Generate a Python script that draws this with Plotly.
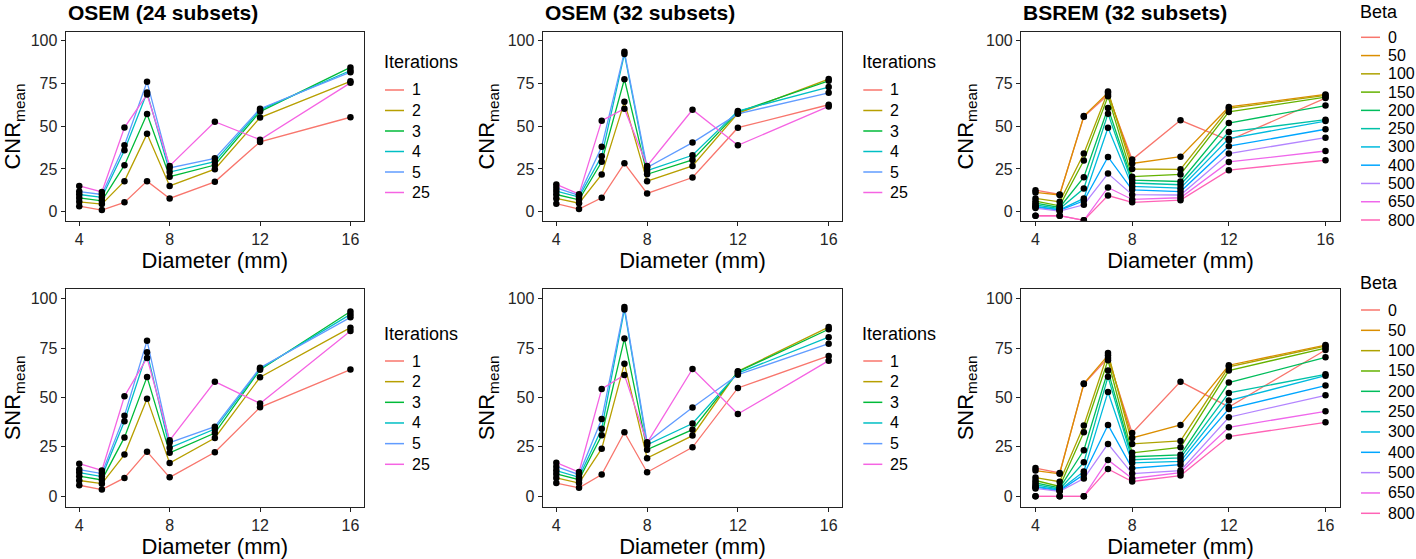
import plotly.graph_objects as go

W, H = 1416, 559

diameters = [4, 5, 6, 7, 8, 10, 12, 16]
iterations = ["1", "2", "3", "4", "5", "25"]
betas = ["0", "50", "100", "150", "200", "250", "300", "400", "500", "650", "800"]

iter_colors = ["#F8766D", "#B79F00", "#00BA38", "#00BFC4", "#619CFF", "#F564E3"]
beta_colors = ["#F8766D", "#DB8E00", "#AEA200", "#64B200", "#00BD5C", "#00C1A7",
               "#00BADE", "#00A6FF", "#B385FF", "#EF67EB", "#FF63B6"]

# rows follow `iterations`, columns follow `diameters`
osem24_cnr = [
    [3.3, 1.0, 5.5, 17.9, 7.8, 17.5, 40.8, 55.2],
    [5.8, 4.5, 17.9, 45.5, 15.1, 24.9, 55.0, 76.2],
    [8.1, 6.4, 27.2, 57.1, 20.5, 27.3, 58.5, 84.3],
    [10.1, 8.4, 35.9, 69.7, 23.2, 29.3, 59.5, 82.5],
    [11.8, 10.1, 38.8, 75.9, 25.6, 31.2, 60.2, 81.5],
    [15.1, 11.6, 49.2, 68.5, 26.8, 52.6, 42.1, 75.3],
]
osem32_cnr = [
    [4.7, 1.6, 8.2, 28.3, 10.7, 20.0, 49.1, 62.5],
    [7.8, 5.0, 21.8, 64.2, 17.9, 26.8, 57.5, 77.5],
    [10.1, 7.0, 29.2, 77.4, 21.9, 30.3, 58.3, 76.5],
    [12.1, 8.6, 32.5, 92.2, 24.0, 33.0, 58.8, 72.8],
    [14.0, 9.6, 38.0, 93.4, 25.8, 40.4, 57.2, 69.5],
    [16.0, 10.3, 53.2, 60.2, 26.8, 59.6, 38.8, 61.5],
]
osem24_snr = [
    [5.6, 3.4, 9.3, 22.6, 9.6, 22.3, 45.0, 64.1],
    [8.0, 6.4, 21.1, 49.4, 16.8, 29.5, 60.2, 85.3],
    [10.2, 8.3, 29.8, 60.4, 22.0, 32.0, 64.0, 93.5],
    [12.0, 10.0, 38.0, 72.8, 24.5, 34.0, 64.5, 92.0],
    [13.5, 11.5, 40.8, 78.7, 27.2, 35.2, 65.0, 90.5],
    [16.5, 13.1, 50.6, 70.0, 28.3, 58.0, 47.0, 83.6],
]
osem32_snr = [
    [6.7, 4.3, 11.0, 32.4, 12.2, 24.8, 54.8, 71.0],
    [9.3, 6.7, 24.1, 67.1, 19.3, 30.7, 63.2, 85.6],
    [11.3, 8.4, 30.9, 79.8, 23.6, 33.7, 63.0, 84.5],
    [13.0, 9.6, 34.2, 94.5, 26.0, 36.8, 62.3, 80.5],
    [15.0, 11.0, 39.1, 95.8, 27.3, 44.9, 61.5, 77.2],
    [17.0, 12.3, 54.3, 61.4, 27.0, 64.4, 41.6, 68.6],
]
# rows follow `betas`
bsrem_cnr = [
    [12.6, 10.1, 55.5, 68.3, 30.5, 53.4, 41.7, 66.4],
    [11.3, 9.8, 55.9, 69.5, 28.2, 32.2, 61.2, 68.5],
    [7.8, 5.8, 34.0, 70.3, 25.0, 24.8, 60.4, 68.0],
    [6.2, 3.5, 29.9, 67.4, 20.5, 21.8, 58.3, 66.9],
    [5.0, 2.5, 20.2, 60.6, 18.5, 17.7, 51.8, 62.0],
    [4.0, 1.8, 13.6, 57.3, 16.8, 15.8, 46.6, 53.8],
    [3.2, 1.2, 7.8, 49.1, 14.8, 13.8, 42.7, 53.0],
    [2.8, 0.8, 6.4, 32.0, 12.8, 11.8, 38.3, 48.2],
    [2.2, 0.4, 4.1, 22.3, 10.0, 9.8, 34.0, 43.3],
    [-2.3, -2.3, -5.0, 14.2, 7.2, 8.2, 29.1, 35.5],
    [-2.3, -2.3, -5.0, 9.5, 5.5, 6.8, 24.3, 30.1],
]
bsrem_snr = [
    [14.3, 11.8, 56.8, 70.0, 32.0, 58.0, 45.2, 74.0],
    [13.0, 11.4, 57.0, 71.3, 29.5, 36.1, 66.3, 76.5],
    [9.5, 7.4, 35.8, 72.5, 26.5, 28.0, 65.5, 76.0],
    [8.0, 5.0, 32.4, 68.8, 22.0, 24.8, 63.6, 75.0],
    [6.8, 4.2, 23.3, 63.6, 20.0, 21.0, 57.5, 70.3],
    [5.9, 3.6, 17.2, 60.5, 18.5, 19.4, 52.3, 61.7],
    [5.0, 3.2, 12.6, 52.8, 16.9, 17.7, 48.4, 61.0],
    [4.6, 2.8, 11.0, 36.1, 14.2, 16.0, 44.2, 56.0],
    [4.0, 2.5, 9.0, 26.5, 11.5, 13.0, 40.0, 51.1],
    [0.0, 0.0, 0.0, 18.4, 9.0, 12.0, 34.9, 43.0],
    [0.0, 0.0, 0.0, 13.8, 7.5, 10.5, 30.2, 37.4],
]

# panel frames in pixels: (left, right) per column, (top, bottom) per row
col_px = [(65.7, 364.0), (542.7, 842.3), (1021.0, 1340.0)]
row_px = [(32.3, 220.7), (289.1, 506.6)]
# legend layout per (row, kind): title y, first item y, item step
legend_px = {
    (0, "Iterations"): (61.7, 90.0, 20.5),
    (1, "Iterations"): (334.3, 361.0, 20.66),
    (0, "Beta"): (11.7, 37.3, 18.27),
    (1, "Beta"): (283.3, 310.0, 20.33),
}

panels = [
    (0, 0, osem24_cnr, "Iterations", "CNR", "OSEM (24 subsets)"),
    (0, 1, osem32_cnr, "Iterations", "CNR", "OSEM (32 subsets)"),
    (0, 2, bsrem_cnr, "Beta", "CNR", "BSREM (32 subsets)"),
    (1, 0, osem24_snr, "Iterations", "SNR", None),
    (1, 1, osem32_snr, "Iterations", "SNR", None),
    (1, 2, bsrem_snr, "Beta", "SNR", None),
]

px_x = lambda v: v / W
px_y = lambda v: 1 - v / H

FONT = "Liberation Sans, Arial, sans-serif"
fig = go.Figure()
shapes, annotations = [], []

for i, (r, c, data, kind, metric, title) in enumerate(panels, start=1):
    names = iterations if kind == "Iterations" else betas
    colors = iter_colors if kind == "Iterations" else beta_colors
    xa, ya = f"x{i}", f"y{i}"

    for name, col, vals in zip(names, colors, data):
        fig.add_trace(go.Scatter(
            x=diameters, y=vals, mode="lines", name=name,
            line=dict(color=col, width=1.3), xaxis=xa, yaxis=ya,
            showlegend=False))
    for name, vals in zip(names, data):
        fig.add_trace(go.Scatter(
            x=diameters, y=vals, mode="markers", name=name,
            marker=dict(color="black", size=6.5), xaxis=xa, yaxis=ya,
            showlegend=False, cliponaxis=True))

    l, rgt = col_px[c]
    t, b = row_px[r]
    axis_common = dict(
        showline=True, mirror=True, linecolor="#222", linewidth=1.2,
        ticks="outside", ticklen=4, tickcolor="#222", tickwidth=1,
        tickfont=dict(size=16, color="#262626", family=FONT),
        showgrid=False, zeroline=False,
    )
    fig.update_layout(**{
        f"xaxis{i}": dict(
            domain=[px_x(l), px_x(rgt)], anchor=ya, range=[3.4, 16.6],
            tickvals=[4, 8, 12, 16],
            title=dict(text="Diameter (mm)", font=dict(size=22, color="black", family=FONT), standoff=1),
            **axis_common),
        f"yaxis{i}": dict(
            domain=[px_y(b), px_y(t)], anchor=xa, range=[-5.2, 104.8],
            tickvals=[0, 25, 50, 75, 100],
            title=dict(text=f"{metric}<sub>mean</sub>", font=dict(size=22, color="black", family=FONT), standoff=6),
            **axis_common),
    })

    if title:
        annotations.append(dict(
            text=f"<b>{title}</b>", x=px_x(l), y=px_y(12.7), xref="paper", yref="paper",
            xanchor="left", yanchor="middle", showarrow=False,
            font=dict(size=21, color="black", family=FONT)))

    # legend drawn beside the panel
    ty, y0, step = legend_px[(r, kind)]
    annotations.append(dict(
        text=kind, x=px_x(rgt + 18), y=px_y(ty), xref="paper", yref="paper",
        xanchor="left", yanchor="middle", showarrow=False,
        font=dict(size=18, color="black", family=FONT)))
    for k, (name, col) in enumerate(zip(names, colors)):
        yy = px_y(y0 + k * step)
        shapes.append(dict(type="line", xref="paper", yref="paper",
                           x0=px_x(rgt + 21), x1=px_x(rgt + 40), y0=yy, y1=yy,
                           line=dict(color=col, width=1.5)))
        annotations.append(dict(
            text=name, x=px_x(rgt + 46), y=yy, xref="paper", yref="paper",
            xanchor="left", yanchor="middle", showarrow=False,
            font=dict(size=16, color="black", family=FONT)))

fig.update_layout(
    width=W, height=H,
    margin=dict(l=0, r=0, t=0, b=0),
    paper_bgcolor="white", plot_bgcolor="white",
    font=dict(family=FONT),
    shapes=shapes, annotations=annotations,
    showlegend=False,
)

# the page body has a default margin; drop it so the figure sits at the corner
fig.write_html("out.html", config={"displayModeBar": False},
               post_script="document.body.style.margin='0';")
